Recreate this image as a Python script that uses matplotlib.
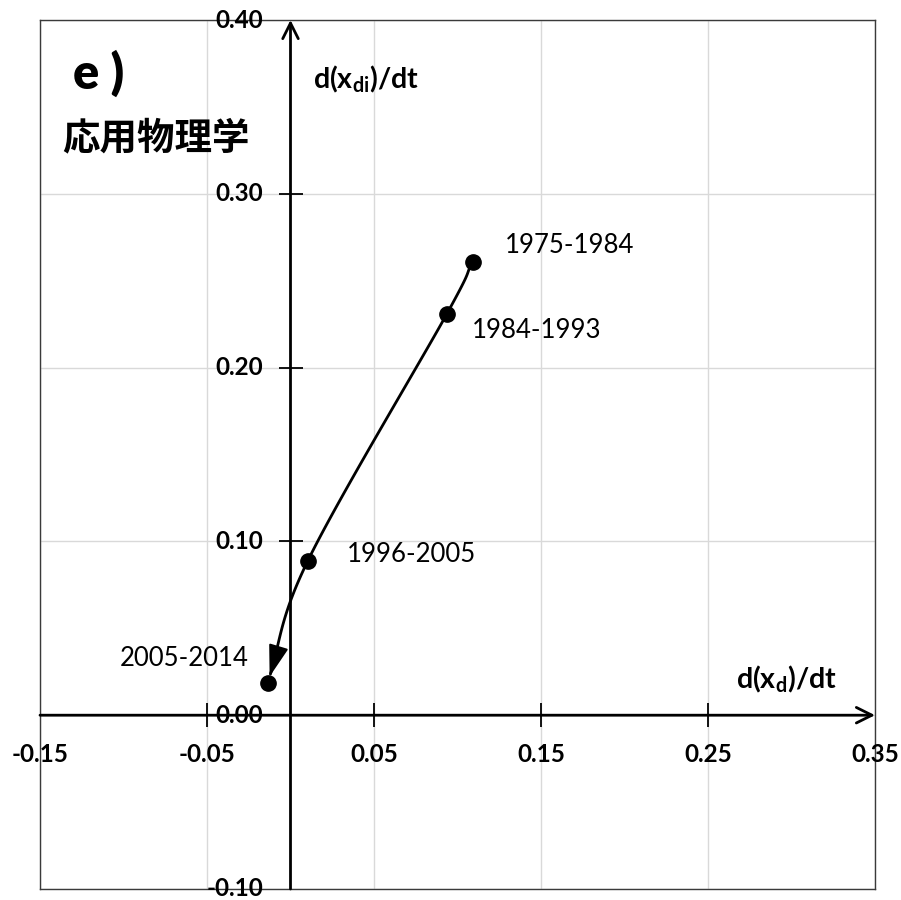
import numpy as np
import matplotlib
matplotlib.use("Agg")
import matplotlib.pyplot as plt

plt.rcParams['font.family'] = ['Lato', 'Noto Sans CJK JP', 'DejaVu Sans']
plt.rcParams['mathtext.fontset'] = 'custom'
plt.rcParams['mathtext.rm'] = 'Lato'
plt.rcParams['mathtext.bf'] = 'Lato:bold'

# Trajectory of (d(x_d)/dt, d(x_di)/dt) over successive periods
periods = ["1975-1984", "1984-1993", "1996-2005", "2005-2014"]
dxd = [0.109, 0.0935, 0.0103, -0.0137]
dxdi = [0.261, 0.2307, 0.0887, 0.0184]

# Label offsets (points) and alignment for each period label
label_offsets = [(23, 11.5), (18, -12), (28, 5), (-14, 18)]
label_ha = ["left", "left", "left", "right"]

x_tick_values = [-0.15, -0.05, 0.05, 0.15, 0.25, 0.35]
x_tick_labels = ["-0.15", "-0.05", "0.05", "0.15", "0.25", "0.35"]
y_tick_values = [-0.10, 0.00, 0.10, 0.20, 0.30, 0.40]
y_tick_labels = ["-0.10", "0.00", "0.10", "0.20", "0.30", "0.40"]


def catmull_rom(xs, ys, n=40):
    p = np.column_stack([xs, ys])
    p = np.vstack([2 * p[0] - p[1], p, 2 * p[-1] - p[-2]])
    out = []
    t = np.linspace(0, 1, n)[:, None]
    for i in range(1, len(p) - 2):
        p0, p1, p2, p3 = p[i - 1], p[i], p[i + 1], p[i + 2]
        seg = 0.5 * ((2 * p1) + (-p0 + p2) * t + (2 * p0 - 5 * p1 + 4 * p2 - p3) * t ** 2
                     + (-p0 + 3 * p1 - 3 * p2 + p3) * t ** 3)
        out.append(seg if i == 1 else seg[1:])
    out = np.vstack(out)
    return out[:, 0], out[:, 1]


fig = plt.figure(figsize=(9.01, 9.0), dpi=100)
ax = fig.add_axes([40 / 901, 11 / 900, 835 / 901, 869 / 900])
ax.set_xlim(-0.15, 0.35)
ax.set_ylim(-0.10, 0.40)
ax.set_xticks(x_tick_values)
ax.set_yticks(y_tick_values)
ax.tick_params(length=0, labelbottom=False, labelleft=False)
ax.grid(True, color='#d9d9d9', lw=1.0)
ax.set_axisbelow(True)
for s in ax.spines.values():
    s.set_color('#3a3a3a')
    s.set_linewidth(1.0)

# Axes through the origin with open arrowheads
ax.annotate('', xy=(0.35, 0), xytext=(-0.15, 0),
            arrowprops=dict(arrowstyle='->', lw=2, color='black',
                            mutation_scale=28, shrinkA=0, shrinkB=0))
ax.annotate('', xy=(0, 0.40), xytext=(0, -0.10),
            arrowprops=dict(arrowstyle='->', lw=2, color='black',
                            mutation_scale=28, shrinkA=0, shrinkB=0))

# Crossing tick marks
xt_inner = [v for v in x_tick_values[1:-1]]
yt_inner = [v for v in y_tick_values[2:-1]]
ax.plot(xt_inner, [0] * len(xt_inner), ls='none', marker='|', ms=17, mew=1.3, color='black')
ax.plot([0] * len(yt_inner), yt_inner, ls='none', marker='_', ms=17, mew=1.3, color='black')

# Tick labels
for v, lab in zip(x_tick_values, x_tick_labels):
    ax.annotate(lab, xy=(v, 0), xytext=(0, -28.5), textcoords='offset points',
                ha='center', va='center', fontsize=17.5, fontweight='bold')
for v, lab in zip(y_tick_values, y_tick_labels):
    ax.annotate(lab, xy=(0, v), xytext=(-19.5, 0), textcoords='offset points',
                ha='right', va='center', fontsize=17.5, fontweight='bold')

# Smoothed trajectory with arrowhead at the latest period
cx, cy = catmull_rom(dxd, dxdi)
ax.plot(cx[:-3], cy[:-3], color='black', lw=2, solid_capstyle='round')
ax.annotate('', xy=(cx[-1], cy[-1]), xytext=(cx[-6], cy[-6]),
            arrowprops=dict(arrowstyle='-|>,head_length=0.7,head_width=0.22',
                            lw=1.5, color='black', mutation_scale=28,
                            shrinkA=0, shrinkB=5))
ax.plot(dxd, dxdi, ls='none', marker='o', ms=11, color='black')

for x, y, lab, off, ha in zip(dxd, dxdi, periods, label_offsets, label_ha):
    ax.annotate(lab, xy=(x, y), xytext=off, textcoords='offset points',
                ha=ha, va='center', fontsize=18.5)

# Axis titles and panel labels
ax.text(0.0135, 0.366, r'd(x$_\mathbf{di}$)/dt', fontsize=20.5, fontweight='bold',
        ha='left', va='center')
ax.text(0.2665, 0.021, r'd(x$_\mathbf{d}$)/dt', fontsize=20.5, fontweight='bold',
        ha='left', va='center')
ax.text(0.0395, 0.939, 'e )', transform=ax.transAxes, fontsize=35, fontweight='heavy',
        ha='left', va='center')
ax.text(0.0265, 0.8642, '応用物理学', transform=ax.transAxes, fontsize=27,
        family=['Noto Sans CJK JP', 'DejaVu Sans'], fontweight='bold',
        ha='left', va='center')

fig.savefig('out.png', dpi=100, facecolor='white')
